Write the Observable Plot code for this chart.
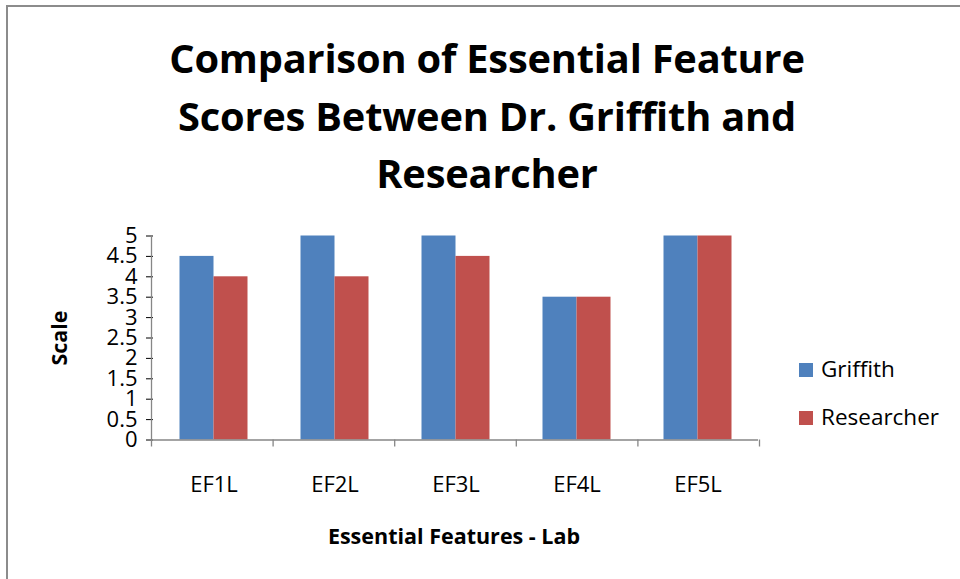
<!DOCTYPE html>
<html>
<head>
<meta charset="utf-8">
<script src="https://cdn.jsdelivr.net/npm/d3@7"></script>
<script src="https://cdn.jsdelivr.net/npm/@observablehq/plot@0.6"></script>
<style>
  html, body { margin: 0; padding: 0; background: #fff; }
  #wrap { position: relative; width: 960px; height: 579px; overflow: hidden; font-family: "Open Sans", Lato, sans-serif; color: #000; }
  #frame { position: absolute; left: 6px; top: 5px; width: 1200px; height: 1200px; border-top: 2px solid #8c8c8c; border-left: 2px solid #8c8c8c; }
  #title { position: absolute; left: 87px; width: 800px; top: 29px; text-align: center; font-weight: bold; font-size: 39.8px; line-height: 57.5px; letter-spacing: -0.2px; }
  #chart { position: absolute; left: 0; top: 0; }
  .axt { position: absolute; font-weight: bold; font-size: 21.5px; white-space: nowrap; }
  #ylab { left: 58px; top: 338px; transform: translate(-50%, -50%) rotate(-90deg); }
  #xlab { left: 454px; top: 535px; transform: translate(-50%, -50%); }
  .leg { position: absolute; left: 799px; font-size: 22.5px; white-space: nowrap; }
  .leg .sw { position: absolute; left: 0; width: 14px; height: 14px; }
  .leg span.t { position: absolute; left: 22px; line-height: 20px; }
</style>
</head>
<body>
<div id="wrap">
  <div id="frame"></div>
  <div id="chart"></div>
  <div id="title">Comparison of Essential Feature<br>Scores Between Dr. Griffith and<br>Researcher</div>
  <div class="axt" id="ylab">Scale</div>
  <div class="axt" id="xlab">Essential Features - Lab</div>
  <div id="legend"></div>
</div>
<script>
const categories = ["EF1L", "EF2L", "EF3L", "EF4L", "EF5L"];
const series = ["Griffith", "Researcher"];
const griffith = [4.5, 5, 5, 3.5, 5];
const researcher = [4, 4, 4.5, 3.5, 5];
const yTicks = [0, 0.5, 1, 1.5, 2, 2.5, 3, 3.5, 4, 4.5, 5];
const colors = ["#4F81BD", "#C0504D"];
const axisColor = "#868686";

const data = [];
categories.forEach((c, i) => {
  data.push({cat: c, series: "Griffith", value: griffith[i]});
  data.push({cat: c, series: "Researcher", value: researcher[i]});
});

const W = 960, H = 579;
const plot = Plot.plot({
  width: W,
  height: H,
  marginTop: 235.5,
  marginBottom: 139.5,
  marginLeft: 151.5,
  marginRight: 200.5,
  style: {fontFamily: "'Open Sans', Lato, sans-serif", fontSize: "22px", color: "#000", background: "transparent"},
  fx: {domain: categories, padding: 0, label: null, tickSize: 0, tickPadding: 36, axis: "bottom"},
  x: {domain: series, paddingInner: 0, paddingOuter: 0.75, axis: null},
  y: {domain: [0, 5], ticks: yTicks, tickFormat: d => String(d), tickSize: 7, tickPadding: 9, label: null, axis: "left"},
  color: {domain: series, range: colors},
  marks: [
    Plot.barY(data, {fx: "cat", x: "series", y: "value", fill: "series"}),
    Plot.ruleY([0], {stroke: axisColor, strokeWidth: 1.3})
  ]
});
document.getElementById("chart").appendChild(plot);

// Excel-style axis line on the left and category boundary tick marks
const svg = d3.select(plot);
const fx = plot.scale("fx");
const y = plot.scale("y");
const [r0, r1] = fx.range;
const step = (r1 - r0) / categories.length;
const bounds = d3.range(categories.length + 1).map(i => r0 + i * step);
const y0 = y.apply(0), y5 = y.apply(5);
svg.append("line").attr("x1", r0).attr("x2", r0).attr("y1", y5).attr("y2", y0)
  .attr("stroke", axisColor).attr("stroke-width", 1.3);
svg.append("g").selectAll("line").data(bounds).join("line")
  .attr("x1", d => d).attr("x2", d => d).attr("y1", y0).attr("y2", y0 + 7)
  .attr("stroke", axisColor).attr("stroke-width", 1.3);
svg.selectAll("g[aria-label='y-axis tick']").attr("stroke", axisColor);
svg.selectAll("g[aria-label='y-axis tick-label'] text").attr("font-size", "23px");
svg.selectAll("g[aria-label='y-axis tick-label'] text, g[aria-label='fx-axis tick-label'] text").attr("fill", "#222");

// Legend
const legend = document.getElementById("legend");
const legTop = [363, 411];
series.forEach((s, i) => {
  const row = document.createElement("div");
  row.className = "leg";
  row.style.top = legTop[i] + "px";
  row.innerHTML = `<div class="sw" style="background:${colors[i]}"></div><span class="t" style="top:-4px">${s}</span>`;
  legend.appendChild(row);
});
</script>
</body>
</html>
